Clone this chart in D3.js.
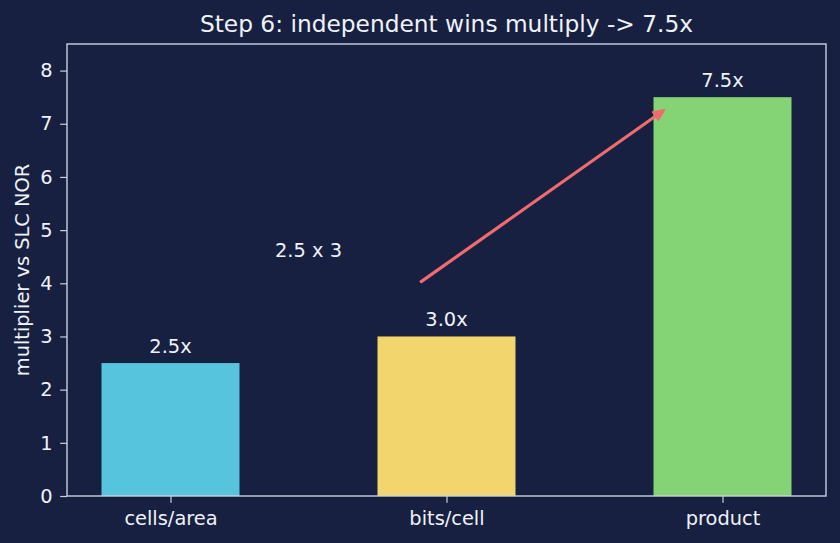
<!DOCTYPE html>
<html><head><meta charset="utf-8">
<script src="https://cdn.jsdelivr.net/npm/d3@7"></script>
<style>body{margin:0;background:#172040;}svg{display:block;}</style>
</head><body>
<script>
const categories = ["cells/area", "bits/cell", "product"];
const values = [2.5, 3.0, 7.5];
const valueLabels = ["2.5x", "3.0x", "7.5x"];
const barColors = ["#57c4de", "#f2d66d", "#84d475"];
const yTicks = [0, 1, 2, 3, 4, 5, 6, 7, 8];
const titleText = "Step 6: independent wins multiply -> 7.5x";
const yLabel = "multiplier vs SLC NOR";
const noteText = "2.5 x 3";
const notePos = [0.5, 4.5];
const arrowFrom = [0.9, 4.0];
const arrowTo = [1.8, 7.3];

const W = 840, H = 543;
const m = {l: 67, r: 14, t: 44, b: 47};
const bg = "#172040", fg = "#f0f2f8", spine = "#c9d1e3", arrowColor = "#ef6b6f";
const font = "DejaVu Sans";
const fs = 19.4, fsTitle = 23.3;

const svg = d3.select("body").append("svg").attr("width", W).attr("height", H);
svg.append("rect").attr("width", W).attr("height", H).attr("fill", bg);

const x = d3.scaleLinear().domain([-0.375, 2.375]).range([m.l, W - m.r]);
const y = d3.scaleLinear().domain([0, 8.5]).range([H - m.b, m.t]);
const bw = 0.5;

const g = svg.append("g");
g.selectAll("rect.bar").data(values).join("rect").attr("class", "bar")
  .attr("x", (d, i) => x(i - bw / 2)).attr("width", (d, i) => x(i + bw / 2) - x(i - bw / 2))
  .attr("y", d => y(d)).attr("height", d => y(0) - y(d))
  .attr("fill", (d, i) => barColors[i]);

g.selectAll("text.val").data(values).join("text").attr("class", "val")
  .attr("x", (d, i) => x(i)).attr("y", d => y(d + 0.19))
  .attr("text-anchor", "middle").attr("fill", fg)
  .attr("font-family", font).attr("font-size", fs).text((d, i) => valueLabels[i]);

// axes
const yAxis = d3.axisLeft(y).tickValues(yTicks).tickSize(6.8).tickPadding(7.5).tickFormat(d3.format("d"));
const gy = svg.append("g").attr("transform", `translate(${m.l},0)`).call(yAxis);
const xAxis = d3.axisBottom(x).tickValues(d3.range(categories.length)).tickSize(6.8).tickPadding(8).tickFormat(i => categories[i]);
const gx = svg.append("g").attr("transform", `translate(0,${H - m.b})`).call(xAxis);
[gx, gy].forEach(a => {
  a.select(".domain").remove();
  a.selectAll(".tick line").attr("stroke", spine).attr("stroke-width", 1.2);
  a.selectAll(".tick text").attr("fill", fg).attr("font-family", font).attr("font-size", fs);
});

// spines
svg.append("rect").attr("x", x.range()[0]).attr("y", y.range()[1])
  .attr("width", x.range()[1] - x.range()[0]).attr("height", y.range()[0] - y.range()[1])
  .attr("fill", "none").attr("stroke", spine).attr("stroke-width", 1.4);

// note
svg.append("text").attr("x", x(notePos[0])).attr("y", y(notePos[1]))
  .attr("text-anchor", "middle").attr("fill", fg).attr("font-family", font).attr("font-size", fs).text(noteText);

// arrow
const x0 = x(arrowFrom[0]), y0 = y(arrowFrom[1]), x1 = x(arrowTo[0]), y1 = y(arrowTo[1]);
const dx = x1 - x0, dy = y1 - y0, L = Math.hypot(dx, dy), ux = dx / L, uy = dy / L;
const sA = 2.8, sB = 2.8;
const sx = x0 + ux * sA, sy = y0 + uy * sA, ex = x1 - ux * sB, ey = y1 - uy * sB;
const hl = 12, hw = 5.5;
const bx = ex - ux * hl, by = ey - uy * hl;
svg.append("line").attr("x1", sx).attr("y1", sy).attr("x2", bx + ux * 2).attr("y2", by + uy * 2)
  .attr("stroke", arrowColor).attr("stroke-width", 3.2).attr("stroke-linecap", "round");
svg.append("path").attr("d", `M${ex},${ey}L${bx - uy * hw},${by + ux * hw}L${bx + uy * hw},${by - ux * hw}Z`)
  .attr("fill", arrowColor).attr("stroke", arrowColor).attr("stroke-width", 1).attr("stroke-linejoin", "round");

// title & label
svg.append("text").attr("x", (x.range()[0] + x.range()[1]) / 2).attr("y", 32)
  .attr("text-anchor", "middle").attr("fill", fg).attr("font-family", font).attr("font-size", fsTitle).text(titleText);
svg.append("text").attr("transform", `translate(28.5,${(y.range()[0] + y.range()[1]) / 2}) rotate(-90)`)
  .attr("text-anchor", "middle").attr("fill", fg).attr("font-family", font).attr("font-size", fs).text(yLabel);
</script>
</body></html>
